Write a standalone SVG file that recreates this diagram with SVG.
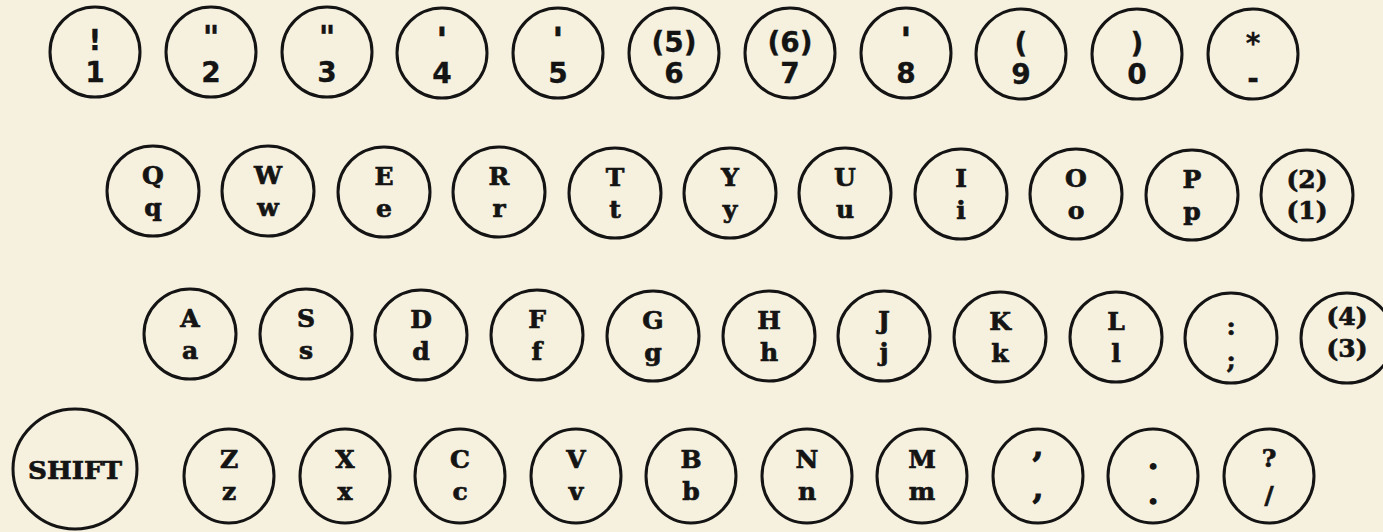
<svg xmlns="http://www.w3.org/2000/svg" width="1383" height="532" viewBox="0 0 1383 532">
<style>
.k{fill:none;stroke:#141414;stroke-width:3}
.s{font-family:"DejaVu Serif","Liberation Serif",serif;font-weight:bold;font-size:25px;text-anchor:middle;fill:#141414;stroke:#141414;stroke-width:0.7}
.n{font-family:"DejaVu Sans","Liberation Sans",sans-serif;font-weight:bold;font-size:28px;text-anchor:middle;fill:#141414;stroke:#141414;stroke-width:0.3}
.q{font-size:32px}
.a{font-size:32px;stroke-width:1.2}
.c{font-size:30px;stroke-width:1.2}
.d{font-size:28px;stroke-width:1.6}
</style>
<rect width="1383" height="532" fill="#f6f0de"/>
<!-- Row 1 -->
<g id="key-1"><ellipse class="k" cx="95" cy="52" rx="45" ry="45"/><text class="n" x="95" y="50">!</text><text class="n" x="95" y="82">1</text></g>
<g id="key-2"><ellipse class="k" cx="211" cy="52" rx="45" ry="45"/><text class="n q" x="211" y="48">"</text><text class="n" x="211" y="82">2</text></g>
<g id="key-3"><ellipse class="k" cx="327" cy="52" rx="45" ry="45"/><text class="n q" x="327" y="48">"</text><text class="n" x="327" y="82">3</text></g>
<g id="key-4"><ellipse class="k" cx="442" cy="53" rx="45" ry="45"/><text class="n a" x="442" y="50">'</text><text class="n" x="442" y="83">4</text></g>
<g id="key-5"><ellipse class="k" cx="558" cy="53" rx="45" ry="45"/><text class="n a" x="558" y="50">'</text><text class="n" x="558" y="83">5</text></g>
<g id="key-6"><ellipse class="k" cx="674" cy="53" rx="45" ry="45"/><text class="n" x="674" y="52">(5)</text><text class="n" x="674" y="83">6</text></g>
<g id="key-7"><ellipse class="k" cx="790" cy="53" rx="45" ry="45"/><text class="n" x="790" y="52">(6)</text><text class="n" x="790" y="83">7</text></g>
<g id="key-8"><ellipse class="k" cx="906" cy="53" rx="45" ry="45"/><text class="n a" x="906" y="50">'</text><text class="n" x="906" y="83">8</text></g>
<g id="key-9"><ellipse class="k" cx="1021" cy="54" rx="45" ry="45"/><text class="n" x="1021" y="53">(</text><text class="n" x="1021" y="84">9</text></g>
<g id="key-0"><ellipse class="k" cx="1137" cy="54" rx="45" ry="45"/><text class="n" x="1137" y="53">)</text><text class="n" x="1137" y="84">0</text></g>
<g id="key-minus"><ellipse class="k" cx="1253" cy="54" rx="45" ry="45"/><text class="n" x="1253" y="53">*</text><text class="n" x="1253" y="88">-</text></g>
<!-- Row 2 -->
<g id="key-q"><ellipse class="k" cx="153" cy="191" rx="46" ry="45"/><text class="s" x="153" y="184">Q</text><text class="s" x="153" y="216">q</text></g>
<g id="key-w"><ellipse class="k" cx="268" cy="191" rx="46" ry="45"/><text class="s" x="268" y="184">W</text><text class="s" x="268" y="216">w</text></g>
<g id="key-e"><ellipse class="k" cx="384" cy="192" rx="46" ry="45"/><text class="s" x="384" y="185">E</text><text class="s" x="384" y="217">e</text></g>
<g id="key-r"><ellipse class="k" cx="499" cy="192" rx="46" ry="45"/><text class="s" x="499" y="185">R</text><text class="s" x="499" y="217">r</text></g>
<g id="key-t"><ellipse class="k" cx="615" cy="193" rx="46" ry="45"/><text class="s" x="615" y="186">T</text><text class="s" x="615" y="218">t</text></g>
<g id="key-y"><ellipse class="k" cx="730" cy="193" rx="46" ry="45"/><text class="s" x="730" y="186">Y</text><text class="s" x="730" y="218">y</text></g>
<g id="key-u"><ellipse class="k" cx="845" cy="193" rx="46" ry="45"/><text class="s" x="845" y="186">U</text><text class="s" x="845" y="218">u</text></g>
<g id="key-i"><ellipse class="k" cx="961" cy="194" rx="46" ry="45"/><text class="s" x="961" y="187">I</text><text class="s" x="961" y="219">i</text></g>
<g id="key-o"><ellipse class="k" cx="1076" cy="194" rx="46" ry="45"/><text class="s" x="1076" y="187">O</text><text class="s" x="1076" y="219">o</text></g>
<g id="key-p"><ellipse class="k" cx="1192" cy="195" rx="46" ry="45"/><text class="s" x="1192" y="188">P</text><text class="s" x="1192" y="220">p</text></g>
<g id="key-21"><ellipse class="k" cx="1307" cy="195" rx="46" ry="45"/><text class="s" x="1307" y="188">(2)</text><text class="s" x="1307" y="219">(1)</text></g>
<!-- Row 3 -->
<g id="key-a"><ellipse class="k" cx="190" cy="334" rx="46" ry="45"/><text class="s" x="190" y="327">A</text><text class="s" x="190" y="359">a</text></g>
<g id="key-s"><ellipse class="k" cx="306" cy="334" rx="46" ry="45"/><text class="s" x="306" y="327">S</text><text class="s" x="306" y="359">s</text></g>
<g id="key-d"><ellipse class="k" cx="421" cy="335" rx="46" ry="45"/><text class="s" x="421" y="328">D</text><text class="s" x="421" y="360">d</text></g>
<g id="key-f"><ellipse class="k" cx="537" cy="335" rx="46" ry="45"/><text class="s" x="537" y="328">F</text><text class="s" x="537" y="360">f</text></g>
<g id="key-g"><ellipse class="k" cx="653" cy="336" rx="46" ry="45"/><text class="s" x="653" y="329">G</text><text class="s" x="653" y="361">g</text></g>
<g id="key-h"><ellipse class="k" cx="769" cy="336" rx="46" ry="45"/><text class="s" x="769" y="329">H</text><text class="s" x="769" y="361">h</text></g>
<g id="key-j"><ellipse class="k" cx="884" cy="336" rx="46" ry="45"/><text class="s" x="884" y="329">J</text><text class="s" x="884" y="361">j</text></g>
<g id="key-k"><ellipse class="k" cx="1000" cy="337" rx="46" ry="45"/><text class="s" x="1000" y="330">K</text><text class="s" x="1000" y="362">k</text></g>
<g id="key-l"><ellipse class="k" cx="1116" cy="337" rx="46" ry="45"/><text class="s" x="1116" y="330">L</text><text class="s" x="1116" y="362">l</text></g>
<g id="key-semicolon"><ellipse class="k" cx="1231" cy="338" rx="46" ry="45"/><text class="s" x="1231" y="335">:</text><text class="s" x="1231" y="368">;</text></g>
<g id="key-43"><ellipse class="k" cx="1347" cy="338" rx="46" ry="45"/><text class="s" x="1347" y="325">(4)</text><text class="s" x="1347" y="357">(3)</text></g>
<!-- Row 4 -->
<g id="key-shift"><ellipse class="k" cx="75" cy="469" rx="62" ry="60"/><text class="s" x="75" y="479" font-size="26" stroke-width="1" textLength="94" lengthAdjust="spacingAndGlyphs">SHIFT</text></g>
<g id="key-z"><ellipse class="k" cx="229" cy="476" rx="45" ry="47"/><text class="s" x="229" y="468">Z</text><text class="s" x="229" y="500">z</text></g>
<g id="key-x"><ellipse class="k" cx="345" cy="476" rx="45" ry="47"/><text class="s" x="345" y="468">X</text><text class="s" x="345" y="500">x</text></g>
<g id="key-c"><ellipse class="k" cx="460" cy="476" rx="45" ry="47"/><text class="s" x="460" y="468">C</text><text class="s" x="460" y="500">c</text></g>
<g id="key-v"><ellipse class="k" cx="576" cy="476" rx="45" ry="47"/><text class="s" x="576" y="468">V</text><text class="s" x="576" y="500">v</text></g>
<g id="key-b"><ellipse class="k" cx="691" cy="476" rx="45" ry="47"/><text class="s" x="691" y="468">B</text><text class="s" x="691" y="500">b</text></g>
<g id="key-n"><ellipse class="k" cx="807" cy="476" rx="45" ry="47"/><text class="s" x="807" y="468">N</text><text class="s" x="807" y="500">n</text></g>
<g id="key-m"><ellipse class="k" cx="922" cy="476" rx="45" ry="47"/><text class="s" x="922" y="468">M</text><text class="s" x="922" y="500">m</text></g>
<g id="key-comma"><ellipse class="k" cx="1038" cy="476" rx="45" ry="47"/><text class="s c" x="1038" y="457">,</text><text class="s c" x="1038" y="499">,</text></g>
<g id="key-period"><ellipse class="k" cx="1153" cy="476" rx="45" ry="47"/><text class="s d" x="1153" y="469">.</text><text class="s d" x="1153" y="504">.</text></g>
<g id="key-slash"><ellipse class="k" cx="1269" cy="476" rx="45" ry="47"/><text class="s" x="1269" y="467" font-size="24">?</text><text class="s" x="1269" y="504" font-size="34" stroke-width="1.4">/</text></g>
</svg>
